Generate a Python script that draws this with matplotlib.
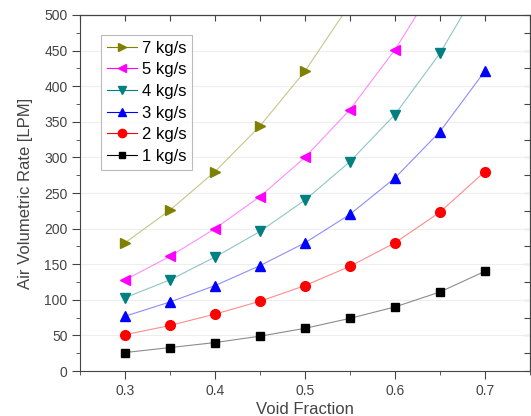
import numpy as np
import matplotlib
matplotlib.use('Agg')
from matplotlib import pyplot as plt
from matplotlib.ticker import MultipleLocator, NullFormatter

plt.rcParams['font.family'] = ['Liberation Sans', 'DejaVu Sans']

# 数据
void_fraction = [0.3, 0.35, 0.4, 0.45, 0.5, 0.55, 0.6, 0.65, 0.7]
rate_1 = [26, 33, 40, 49, 60, 74, 90, 111, 140]
rate_2 = [51, 64, 80, 98, 120, 147, 180, 223, 280]
rate_3 = [77, 97, 120, 148, 180, 220, 271, 336, 421]
rate_4 = [103, 128, 160, 196, 240, 294, 360, 446, 553]
rate_5 = [128, 161, 200, 245, 300, 367, 451, 552, 680]
rate_7 = [180, 226, 280, 344, 421, 515]
labels = ['7 kg/s', '5 kg/s', '4 kg/s', '3 kg/s', '2 kg/s', '1 kg/s']

series = [rate_7, rate_5, rate_4, rate_3, rate_2, rate_1]
colors = ['#808000', '#ff00ff', '#008080', '#0000ff', '#ff0000', '#000000']
markers = ['>', '<', 'v', '^', 'o', 's']
msizes = [7, 7, 7, 7, 7, 6]

fig = plt.figure(figsize=(5.31, 4.16), dpi=100)
ax = fig.add_axes([0.1507, 0.108, 0.847, 0.856])

for y, c, m, ms, lab in zip(series, colors, markers, msizes, labels):
    x = void_fraction[:len(y)]
    ax.plot(x, y, '-', color=c, lw=0.8, alpha=0.45, zorder=2)
    ax.plot(x, y, m, color=c, ms=ms, mec=c, zorder=3)
    # 图例用的句柄
    ax.plot([], [], '-', marker=m, color=c, lw=0.8, ms=ms - 1, label=lab)

ax.set_xlim(0.25, 0.75)
ax.set_ylim(0, 500)
ax.xaxis.set_major_locator(MultipleLocator(0.1))
ax.xaxis.set_minor_locator(MultipleLocator(0.05))
ax.yaxis.set_major_locator(MultipleLocator(50))
ax.yaxis.set_minor_locator(MultipleLocator(25))
ax.xaxis.set_major_formatter(lambda v, p: f'{v:.1f}')
ax.tick_params(which='both', direction='out', color='#444444',
               labelcolor='#444444', labelsize=10, pad=3)
ax.tick_params(which='major', length=6)
ax.tick_params(which='minor', length=3)
ax.grid(axis='y', color='#eeeeee', lw=0.8, zorder=0)
for s in ax.spines.values():
    s.set_color('#444444')

# 上边和右边的内向刻度
top = ax.secondary_xaxis('top')
top.xaxis.set_major_locator(MultipleLocator(0.05))
top.xaxis.set_major_formatter(NullFormatter())
top.tick_params(direction='in', length=4, color='#444444')
right = ax.secondary_yaxis('right')
right.yaxis.set_major_locator(MultipleLocator(25))
right.yaxis.set_major_formatter(NullFormatter())
right.tick_params(direction='in', length=4, color='#444444')

ax.set_xlabel('Void Fraction', fontsize=12, color='#444444', labelpad=3)
ax.set_ylabel('Air Volumetric Rate [LPM]', fontsize=12, color='#444444', labelpad=8)

leg = ax.legend(loc='upper left', bbox_to_anchor=(0.028, 0.968), fontsize=12,
                handlelength=1.8, handletextpad=0.3, labelspacing=0.4,
                borderpad=0.35, fancybox=False, edgecolor='#aaaaaa')
leg.get_frame().set_linewidth(0.8)

plt.savefig('out.png', dpi=100)
